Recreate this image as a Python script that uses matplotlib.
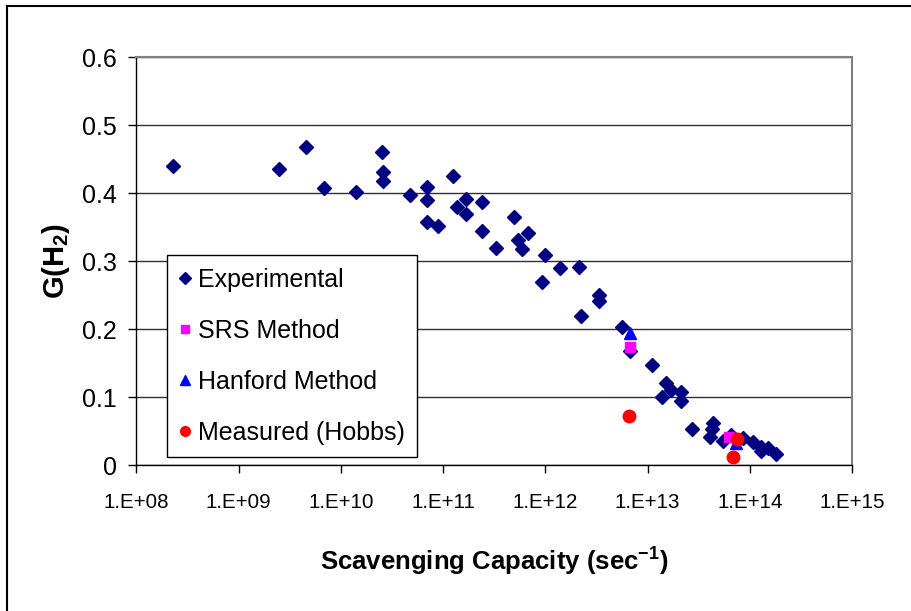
import numpy as np
import matplotlib
matplotlib.use("Agg")
from matplotlib import pyplot as plt
from matplotlib.ticker import FixedLocator, FuncFormatter, NullLocator
from matplotlib.lines import Line2D

plt.rcParams['font.family'] = ['Liberation Sans', 'DejaVu Sans']
plt.rcParams['mathtext.default'] = 'regular'

# experimental data
exp_x = [2.3e8, 2.5e9, 4.6e9, 6.9e9, 1.4e10, 2.5e10, 2.6e10, 2.6e10, 4.7e10,
         7.0e10, 7.0e10, 7.0e10, 9.0e10, 1.24e11, 1.37e11, 1.67e11, 1.67e11,
         2.38e11, 2.38e11, 3.26e11, 4.9e11, 5.36e11, 5.87e11, 6.7e11, 9.9e11,
         9.2e11, 1.38e12, 2.12e12, 2.23e12, 3.35e12, 3.35e12, 5.66e12, 6.7e12,
         1.1e13, 1.51e13, 1.70e13, 1.38e13, 2.12e13, 2.14e13, 2.7e13, 4.4e13,
         4.3e13, 4.1e13, 5.5e13, 6.5e13, 8.6e13, 1.08e14, 1.3e14, 1.3e14,
         1.5e14, 1.8e14]
exp_y = [0.440, 0.436, 0.468, 0.408, 0.401, 0.461, 0.431, 0.418, 0.397,
         0.409, 0.390, 0.358, 0.351, 0.425, 0.380, 0.392, 0.369,
         0.387, 0.344, 0.319, 0.365, 0.331, 0.318, 0.341, 0.309,
         0.270, 0.290, 0.291, 0.219, 0.250, 0.241, 0.203, 0.168,
         0.148, 0.121, 0.111, 0.100, 0.108, 0.094, 0.053, 0.062,
         0.054, 0.042, 0.035, 0.045, 0.040, 0.034, 0.027, 0.021,
         0.025, 0.017]

srs_x = [6.7e12, 6.2e13]
srs_y = [0.174, 0.042]

hanford_x = [6.8e12, 7.4e13]
hanford_y = [0.194, 0.033]

hobbs_x = [6.6e12, 7.5e13, 6.8e13]
hobbs_y = [0.072, 0.038, 0.012]

decades = [1e8, 1e9, 1e10, 1e11, 1e12, 1e13, 1e14, 1e15]
yticks = [0, 0.1, 0.2, 0.3, 0.4, 0.5, 0.6]

fig = plt.figure(figsize=(9.11, 6.11), dpi=100)
ax = fig.add_axes([0.1498, 0.2385, 0.7854, 0.6682])

ax.plot(exp_x, exp_y, 'D', color='#000080', ms=7, mec='#000080', ls='none', zorder=3)
ax.plot(srs_x, srs_y, 's', color='#ff00ff', ms=7, mec='#ff00ff', ls='none', zorder=4)
ax.plot(hanford_x, hanford_y, '^', color='#0000ff', ms=9, mec='#0000ff', ls='none', zorder=5)
ax.plot(hobbs_x, hobbs_y, 'o', color='#ff0000', ms=9, mec='#ff0000', ls='none', zorder=6)

ax.set_xscale('log')
ax.set_xlim(1e8, 1e15)
ax.set_ylim(0, 0.6)
ax.xaxis.set_major_locator(FixedLocator(decades))
ax.xaxis.set_minor_locator(NullLocator())
ax.xaxis.set_major_formatter(FuncFormatter(lambda v, p: "1.E+%02d" % int(round(np.log10(v)))))
ax.set_yticks(yticks)
ax.set_yticklabels(["0", "0.1", "0.2", "0.3", "0.4", "0.5", "0.6"])

ax.yaxis.grid(True, color='#303030', lw=1.0)
ax.set_axisbelow(True)
for s in ['top', 'right']:
    ax.spines[s].set_color('#808080')
    ax.spines[s].set_linewidth(1.5)
for s in ['left', 'bottom']:
    ax.spines[s].set_color('black')
    ax.spines[s].set_linewidth(1.0)

ax.tick_params(axis='y', direction='out', length=6, width=1, labelsize=18, pad=8)
ax.tick_params(axis='x', direction='out', length=6, width=1, labelsize=14.8, pad=14)

ax.set_xlabel("Scavenging Capacity (sec$^{-1}$)", fontsize=18.5, fontweight='bold', labelpad=24)
ax.set_ylabel("G(H$_2$)", fontsize=21, fontweight='bold', labelpad=7)

handles = [
    Line2D([], [], marker='D', color='#000080', ls='none', ms=6),
    Line2D([], [], marker='s', color='#ff00ff', ls='none', ms=6),
    Line2D([], [], marker='^', color='#0000ff', ls='none', ms=7),
    Line2D([], [], marker='o', color='#ff0000', ls='none', ms=7),
]
labels = ['Experimental', 'SRS Method', 'Hanford Method', 'Measured (Hobbs)']
leg = ax.legend(handles, labels, loc='upper left', bbox_to_anchor=(0.0423, 0.514),
                borderaxespad=0, fontsize=18, frameon=True, fancybox=False,
                edgecolor='black', framealpha=1, handlelength=0.5, handletextpad=0.25,
                labelspacing=1.08, borderpad=0.5)
leg.get_frame().set_linewidth(1.0)

# thin frame lines round the chart (top and left)
fig.add_artist(Line2D([0.0077, 1.0], [0.990, 0.990], transform=fig.transFigure, color='black', lw=1.5))
fig.add_artist(Line2D([0.0077, 0.0077], [0.0, 0.990], transform=fig.transFigure, color='black', lw=1.5))

fig.savefig("out.png", dpi=100)
